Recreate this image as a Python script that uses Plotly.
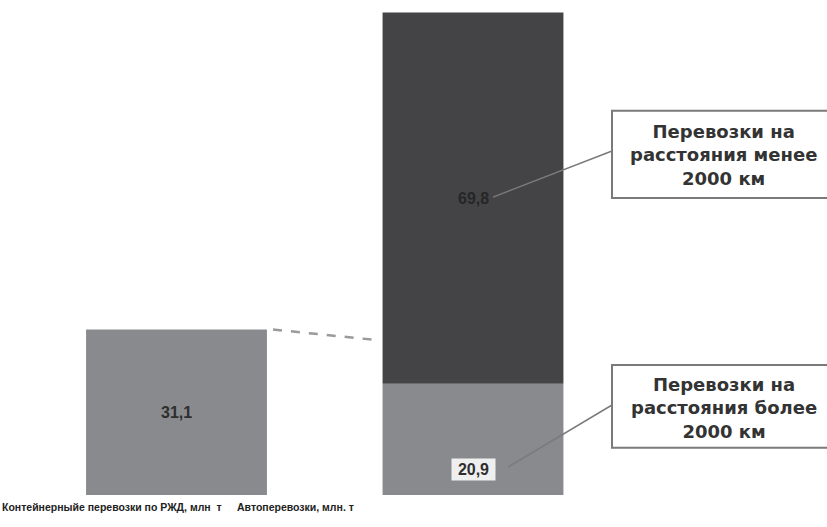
import plotly.graph_objects as go

# ---- data ----
categories = ["Контейнерныйе перевозки по РЖД, млн  т", "Автоперевозки, млн. т"]
rail_values = [31.1]
auto_long = [20.9]    # перевозки на расстояния более 2000 км
auto_short = [69.8]   # перевозки на расстояния менее 2000 км
value_labels_rail = ["31,1"]
value_labels_long = ["20,9"]
value_labels_short = ["69,8"]
callout_short = "Перевозки на<br>расстояния менее<br>2000 км"
callout_long = "Перевозки на<br>расстояния более<br>2000 км"

GRAY = "#898a8e"
DARK = "#444446"
TXT = "#2e2e2e"
BW = 0.61

fig = go.Figure()
fig.add_trace(go.Bar(x=[0], y=rail_values, width=BW, marker=dict(color=GRAY, line=dict(width=0)),
                     hoverinfo="skip", showlegend=False))
fig.add_trace(go.Bar(x=[1], y=auto_long, width=BW, marker=dict(color=GRAY, line=dict(width=0)),
                     hoverinfo="skip", showlegend=False))
fig.add_trace(go.Bar(x=[1], y=auto_short, width=BW, base=auto_long, marker=dict(color=DARK, line=dict(width=0)),
                     hoverinfo="skip", showlegend=False))

label_font = dict(family="Liberation Sans", size=10.5, color="#222222", weight="bold")

annotations = [
    dict(x=0, y=rail_values[0] / 2, text=value_labels_rail[0], showarrow=False,
         font=dict(family="Liberation Sans", size=16, color=TXT, weight="bold")),
    dict(x=1.0, y=auto_long[0] + auto_short[0] / 2, text=value_labels_short[0], showarrow=False,
         font=dict(family="Liberation Sans", size=16, color="#262626", weight="bold")),
    dict(x=1.0, y=auto_long[0] * 0.225, text=value_labels_long[0], showarrow=False,
         bgcolor="#efefef", borderpad=2, width=39, height=17,
         font=dict(family="Liberation Sans", size=16, color=TXT, weight="bold")),
    dict(x=1.8465, y=63.9, text=callout_short, showarrow=False,
         font=dict(family="DejaVu Sans", size=18, color="#333333", weight="bold")),
    dict(x=1.8465, y=16.35, text=callout_long, showarrow=False,
         font=dict(family="DejaVu Sans", size=18, color="#333333", weight="bold")),
    dict(x=-0.2175, y=-2.3, text=categories[0], showarrow=False, font=label_font),
    dict(x=0.403, y=-2.3, text=categories[1], showarrow=False, font=label_font),
]

shapes = [
    # dashed connector between bars
    dict(type="line", x0=0.3255, y0=rail_values[0], x1=0.6796, y1=29.1,
         line=dict(color="#9a9a9a", width=2.5, dash="dash")),
    # callout boxes
    dict(type="rect", x0=1.4688, x1=2.3, y0=55.83, y1=72.24,
         line=dict(color="#7a7a7a", width=2), fillcolor="white"),
    dict(type="rect", x0=1.4688, x1=2.3, y0=8.89, y1=24.44,
         line=dict(color="#7a7a7a", width=2), fillcolor="white"),
    # leader lines
    dict(type="line", x0=1.0675, y0=56.0, x1=1.4688, y1=64.66,
         line=dict(color="#7a7a7a", width=1.5)),
    dict(type="line", x0=1.118, y0=5.26, x1=1.4688, y1=16.92,
         line=dict(color="#7a7a7a", width=1.5)),
]

fig.update_layout(
    width=827, height=527,
    margin=dict(l=0, r=0, t=0, b=0),
    paper_bgcolor="white", plot_bgcolor="white",
    barmode="overlay",
    xaxis=dict(range=[-0.59528, 2.19393], visible=False, fixedrange=True),
    yaxis=dict(range=[-6.015, 93.045], visible=False, fixedrange=True),
    annotations=annotations,
    shapes=shapes,
)

fig.write_html("out.html")
